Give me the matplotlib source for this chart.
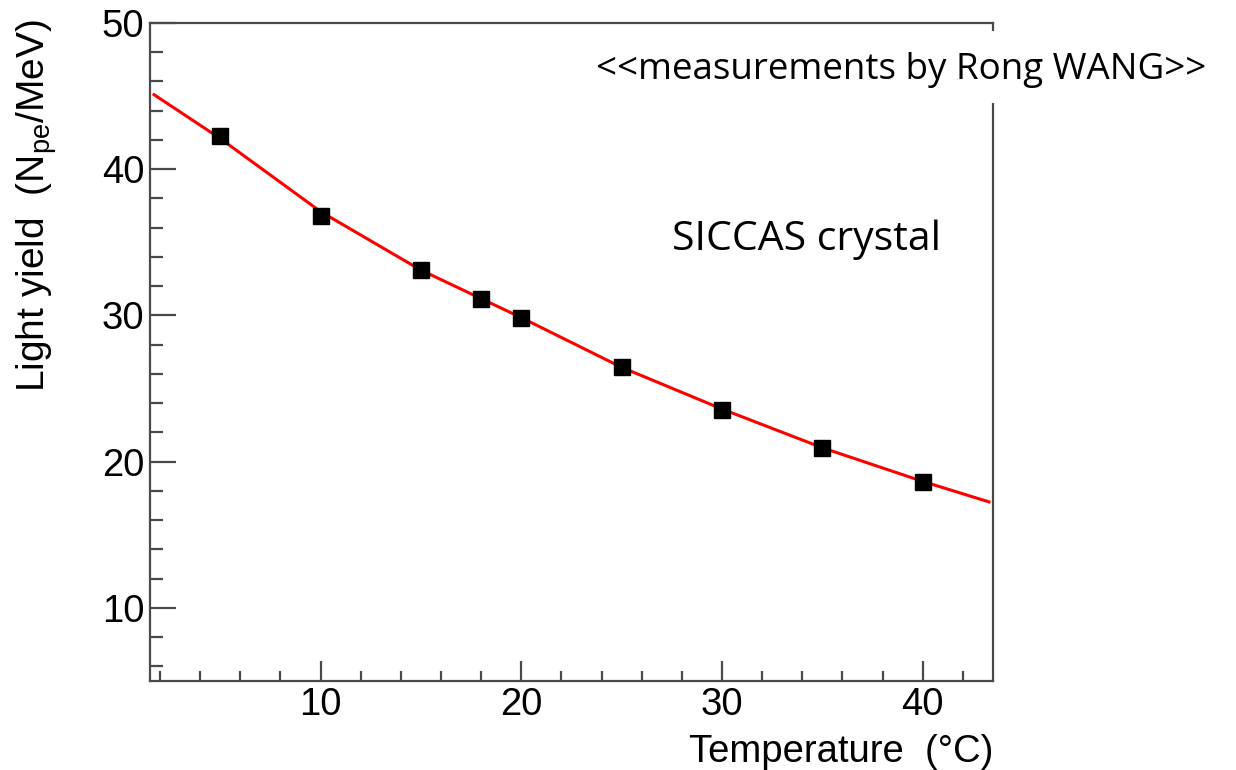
import matplotlib
matplotlib.use("Agg")
import matplotlib.pyplot as plt
from matplotlib.patches import Rectangle
from matplotlib.ticker import MultipleLocator

# measured points (temperature in C, light yield in Npe/MeV)
temp = [5, 10, 15, 18, 20, 25, 30, 35, 40]
light_yield = [42.3, 36.8, 33.1, 31.15, 29.8, 26.45, 23.55, 20.95, 18.6]

# fit curve
fit_temp = [1.7, 5, 10, 15, 20, 25, 30, 35, 40, 43.3]
fit_yield = [45.1, 42.1, 37.1, 33.1, 29.85, 26.45, 23.6, 20.95, 18.65, 17.25]

plt.rcParams['font.family'] = ['Liberation Sans', 'DejaVu Sans']
plt.rcParams['mathtext.fontset'] = 'custom'
plt.rcParams['mathtext.rm'] = 'Liberation Sans'
plt.rcParams['mathtext.it'] = 'Liberation Sans'

fig = plt.figure(figsize=(12.36, 7.70), dpi=100)
ax = fig.add_axes([150 / 1236, 1 - 681 / 770, 843 / 1236, 658 / 770])

ax.plot(fit_temp, fit_yield, color='red', lw=2.2, zorder=2)
ax.plot(temp, light_yield, 's', color='black', ms=11, zorder=3)

ax.set_xlim(1.5, 43.5)
ax.set_ylim(5, 50)
ax.xaxis.set_major_locator(MultipleLocator(10))
ax.xaxis.set_minor_locator(MultipleLocator(2))
ax.yaxis.set_major_locator(MultipleLocator(10))
ax.yaxis.set_minor_locator(MultipleLocator(2))

frame = '#4a4a4a'
for s in ax.spines.values():
    s.set_color(frame)
    s.set_linewidth(1.6)

ax.tick_params(axis='both', which='both', direction='in', colors=frame,
               labelcolor='black', labelsize=27.5, width=1.6)
ax.tick_params(axis='y', which='major', length=19, pad=4)
ax.tick_params(axis='y', which='minor', length=9.5)
ax.tick_params(axis='x', which='major', length=14.5, pad=4)
ax.tick_params(axis='x', which='minor', length=7.5)

ax.set_xlabel('Temperature  (\u00b0C)', fontsize=27.5, loc='right')
ax.xaxis.label.set_va('center')
ax.xaxis.set_label_coords(1.0, -0.108)

ax.set_ylabel(r'Light yield  (N$_{\mathrm{pe}}$/MeV)', fontsize=28, loc='top')
ax.yaxis.label.set_va('center')
ax.yaxis.set_label_coords(-0.134, 1.005)

# white box of the pasted annotation hides part of the frame
fig.add_artist(Rectangle((585 / 1236, 1 - 103 / 770), 640 / 1236, 72 / 770,
                         transform=fig.transFigure, facecolor='white',
                         edgecolor='none', zorder=5))
fig.text(901 / 1236, 1 - 70 / 770, '<<measurements by Rong WANG>>',
         family='Open Sans', fontsize=26.5, ha='center', va='center', zorder=6)
fig.text(806 / 1236, 1 - 240 / 770, 'SICCAS crystal',
         family='Open Sans', fontsize=29.5, ha='center', va='center')

fig.savefig('out.png', dpi=100)
